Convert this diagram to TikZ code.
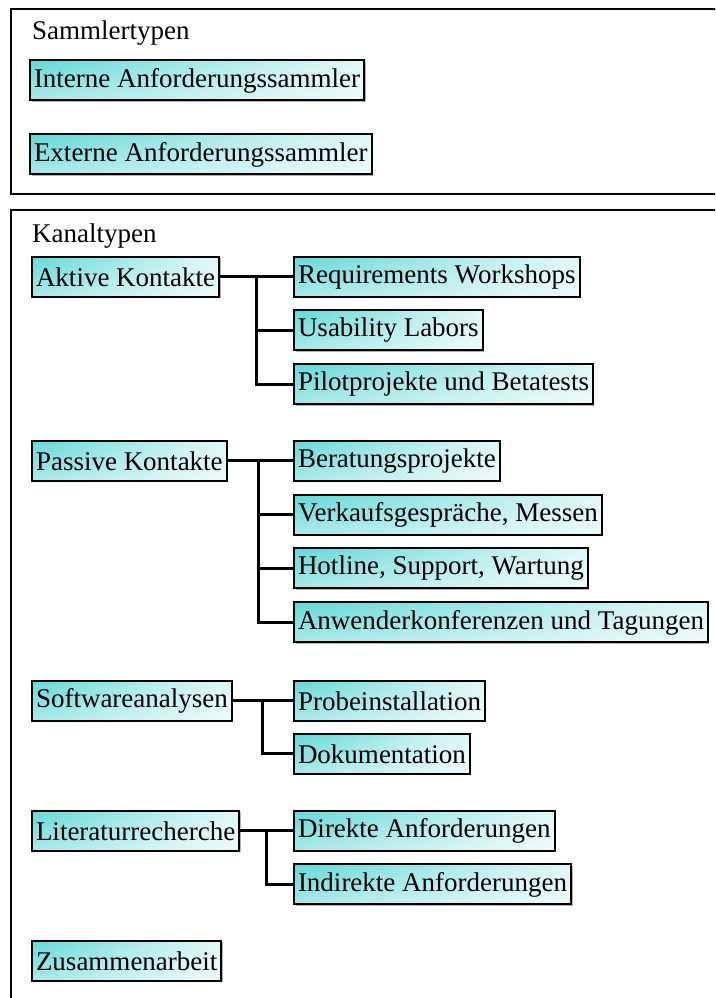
\documentclass[tikz,border=0pt]{standalone}
\usepackage{fontspec}
\setmainfont{Liberation Serif}
\usetikzlibrary{shadows,fadings}

\definecolor{tq}{RGB}{51,204,204}

% box fill: turquoise on the left, white on the right, lighter towards the bottom
\pgfdeclarehorizontalshading{tqh}{100bp}{color(0bp)=(tq); color(30bp)=(tq!70!white);
    color(65bp)=(tq!25!white); color(90bp)=(white); color(100bp)=(white)}
\tikzfading[name=fadedown, top color=transparent!100, bottom color=transparent!55]

\begin{document}
\begin{tikzpicture}[x=1pt, y=1pt,
    sbox/.style={draw, line width=2pt, anchor=west, minimum height=40pt,
        inner xsep=4pt, inner ysep=0pt,
        shade, shading=tqh,
        path picture={\fill[white, path fading=fadedown]
            (path picture bounding box.south west) rectangle (path picture bounding box.north east);},
        drop shadow={shadow xshift=1.5pt, shadow yshift=-1.5pt, fill=black!30, opacity=1},
        font=\fontsize{27}{32}\selectfont},
    title/.style={anchor=base west, inner sep=0pt, font=\fontsize{27}{32}\selectfont},
    link/.style={line width=3pt},
    frame/.style={line width=2.4pt}]

    % Page size, the frames run off on the right and at the bottom
    \useasboundingbox (0,0) rectangle (715,998);
    \clip (0,0) rectangle (715,998);

    % Draw the two outer frames
    \draw[frame] (11,804) rectangle (760,989);
    \draw[frame] (11,-50) rectangle (760,788);

    % Sammlertypen
    \node[title] (sammler) at (32,958) {Sammlertypen};
    \node[sbox] (intern) at (29,917.5) {Interne Anforderungssammler};
    \node[sbox] (extern) at (29,843.5) {Externe Anforderungssammler};

    % Kanaltypen
    \node[title] (kanal) at (32,755) {Kanaltypen};

    % Aktive Kontakte and its three channels
    \node[sbox] (aktiv) at (31,721) {Aktive Kontakte};
    \node[sbox] (rw) at (293,721) {Requirements Workshops};
    \node[sbox] (ul) at (293,667.5) {Usability Labors};
    \node[sbox] (pb) at (293,613.5) {Pilotprojekte und Betatests};
    \coordinate (aktivT) at (256,721);
    \draw[link] (aktiv.east) -- (rw.west);
    \draw[link] (aktivT) |- (ul.west);
    \draw[link] (aktivT) |- (pb.west);

    % Passive Kontakte and its four channels
    \node[sbox] (passiv) at (31,537) {Passive Kontakte};
    \node[sbox] (bp) at (293,537) {Beratungsprojekte};
    \node[sbox] (vm) at (293,483) {Verkaufsgespräche, Messen};
    \node[sbox] (hs) at (293,429.5) {Hotline, Support, Wartung};
    \node[sbox] (at) at (293,375.5) {Anwenderkonferenzen und Tagungen};
    \coordinate (passivT) at (258,537);
    \draw[link] (passiv.east) -- (bp.west);
    \draw[link] (passivT) |- (vm.west);
    \draw[link] (passivT) |- (hs.west);
    \draw[link] (passivT) |- (at.west);

    % Softwareanalysen
    \node[sbox] (sw) at (31,297) {Softwareanalysen};
    \node[sbox] (pi) at (293,297) {Probeinstallation};
    \node[sbox] (dk) at (293,244) {Dokumentation};
    \coordinate (swT) at (262,297);
    \draw[link] (sw.east) -- (pi.west);
    \draw[link] (swT) |- (dk.west);

    % Literaturrecherche
    \node[sbox] (lr) at (31,167) {Literaturrecherche};
    \node[sbox] (da) at (293,167) {Direkte Anforderungen};
    \node[sbox] (ia) at (293,113.5) {Indirekte Anforderungen};
    \coordinate (lrT) at (266,167);
    \draw[link] (lr.east) -- (da.west);
    \draw[link] (lrT) |- (ia.west);

    % Zusammenarbeit stands alone
    \node[sbox] (za) at (31,37) {Zusammenarbeit};

\end{tikzpicture}
\end{document}
